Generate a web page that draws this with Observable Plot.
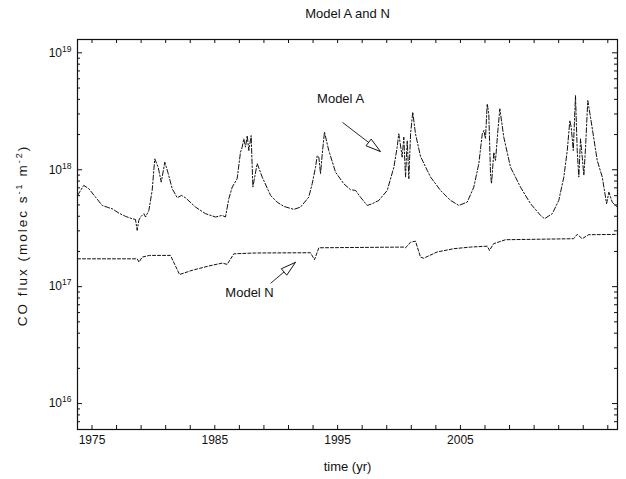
<!DOCTYPE html>
<html><head><meta charset="utf-8">
<script src="https://cdn.jsdelivr.net/npm/d3@7"></script>
<script src="https://cdn.jsdelivr.net/npm/@observablehq/plot@0.6"></script>
<style>
html,body{margin:0;padding:0;background:#fff;}
#chart svg{display:block;}
</style></head><body><div id="chart"></div>
<script>
// ---- data ----
const yearsA = [1973.82,1974.33,1974.74,1975.29,1975.83,1976.37,1976.64,1977.18,1977.73,1978.27,
1978.54,1978.68,1978.81,1978.95,1979.22,1979.36,1979.63,1979.90,1980.11,1980.39,
1980.64,1980.93,1981.21,1981.53,1981.94,1982.29,1982.61,1983.43,1984.24,1985.06,
1985.60,1985.87,1986.14,1986.42,1986.82,1987.09,1987.23,1987.36,1987.50,1987.64,
1987.77,1987.96,1988.10,1988.45,1988.86,1989.54,1990.08,1990.62,1991.43,1991.98,
1992.65,1992.93,1993.20,1993.34,1993.47,1993.61,1993.75,1993.93,1994.28,1994.83,
1995.50,1996.05,1996.46,1996.86,1997.41,1997.82,1998.36,1999.04,1999.58,1999.85,
1999.98,2000.26,2000.39,2000.53,2000.67,2000.80,2000.94,2001.12,2001.34,2001.75,
2002.30,2002.57,2003.38,2004.19,2004.87,2005.55,2006.09,2006.50,2006.78,2006.91,
2007.04,2007.18,2007.31,2007.45,2007.53,2007.72,2007.86,2008.05,2008.21,2008.53,
2009.08,2009.89,2010.71,2011.52,2011.85,2012.48,2013.01,2013.42,2013.70,2013.91,
2014.02,2014.19,2014.37,2014.51,2014.64,2014.78,2014.92,2015.05,2015.19,2015.37,
2015.59,2016.14,2016.55,2016.90,2017.09,2017.36,2017.63,2017.79];
const fluxA = [6.03e17,7.34e17,6.88e17,5.83e17,4.95e17,4.73e17,4.64e17,4.26e17,3.99e17,3.81e17,
3.76e17,3.03e17,3.69e17,3.94e17,4.21e17,3.94e17,4.49e17,6.65e17,1.24e18,1.05e18,
7.83e17,1.16e18,9.25e17,6.88e17,5.76e17,6.03e17,5.76e17,4.79e17,4.21e17,3.94e17,
4.07e17,3.94e17,5.65e17,7.10e17,8.38e17,1.41e18,1.56e18,1.84e18,1.56e18,1.96e18,
1.46e18,1.96e18,7.10e17,1.13e18,8.65e17,6.03e17,5.28e17,4.86e17,4.58e17,4.79e17,
5.83e17,7.59e17,1.05e18,1.32e18,1.28e18,9.25e17,1.37e18,2.10e18,1.46e18,9.54e17,
7.59e17,6.75e17,6.65e17,5.83e17,4.95e17,5.12e17,5.47e17,6.65e17,1.05e18,1.56e18,
2.03e18,1.28e18,1.90e18,8.65e17,1.78e18,8.38e17,2.03e18,3.11e18,2.03e18,1.30e18,
9.86e17,8.65e17,6.65e17,5.47e17,4.95e17,5.28e17,7.10e17,1.13e18,2.03e18,2.17e18,
1.84e18,3.66e18,3.01e18,9.25e17,7.59e17,1.41e18,1.20e18,2.17e18,3.32e18,1.90e18,
1.05e18,7.10e17,5.12e17,4.07e17,3.81e17,4.21e17,5.47e17,8.65e17,1.46e18,2.64e18,
2.31e18,1.46e18,4.31e18,1.46e18,8.65e17,1.84e18,1.28e18,8.94e17,1.56e18,3.91e18,
2.82e18,1.20e18,8.65e17,5.12e17,6.43e17,5.28e17,4.95e17,4.79e17];

const yearsN = [1973.82,1978.68,1978.83,1979.09,1979.68,1981.39,1982.13,1983.16,1984.49,1985.60,
1986.01,1986.55,1988.31,1992.79,1993.12,1993.47,2000.39,2000.53,2000.94,2001.34,
2001.75,2002.00,2003.11,2004.44,2005.82,2007.18,2007.37,2007.70,2008.67,2014.21,
2014.51,2014.92,2015.43,2017.79];
const fluxN = [1.73e17,1.73e17,1.62e17,1.79e17,1.85e17,1.85e17,1.27e17,1.38e17,1.50e17,1.59e17,
1.55e17,1.91e17,1.94e17,1.95e17,1.70e17,2.15e17,2.18e17,2.15e17,2.40e17,2.45e17,
1.79e17,1.75e17,1.98e17,2.11e17,2.18e17,2.22e17,2.04e17,2.33e17,2.52e17,2.57e17,
2.80e17,2.57e17,2.78e17,2.80e17];

const xTickLabels = [1975, 1985, 1995, 2005];
const xMinorTicks = d3.range(1975, 2018, 2);
const yMajorTicks = [1e16, 1e17, 1e18, 1e19];
const xDomain = [1973.82, 2017.79];
const yDomain = [6.0e15, 1.3e19];

const titleText = "Model A and N";
const xLabelText = "time (yr)";
const yLabelParts = [["CO flux (molec s", false], ["-1", true], [" m", false], ["-2", true], [")", false]];
const yLabelText = yLabelParts.map(p => p[0]).join("");

const annoNames = ["Model A", "Model N"];
const annoTextX = [1995.24, 1987.83];
const annoTextY = [4.06e18, 8.94e16];
const annoFromX = [1995.40, 1989.54];
const annoFromY = [2.54e18, 1.067e17];
const annoToX = [1998.49, 1991.57];
const annoToY = [1.43e18, 1.615e17];

// ---- layout ----
const W = 626, H = 479;
const mL = 77, mR = 9, mT = 39, mB = 50;
const fw = W - mL - mR, fh = H - mT - mB;
const FONT = "'Liberation Sans', Arial, Helvetica, sans-serif";
const INK = "#111";

const yMinorTicks = [];
for (let e = 15; e <= 19; e++) for (let k = 2; k <= 9; k++) {
  const v = k * Math.pow(10, e);
  if (v >= yDomain[0] && v <= yDomain[1]) yMinorTicks.push(v);
}

const dataA = yearsA.map((t, i) => ({t, v: fluxA[i]}));
const dataN = yearsN.map((t, i) => ({t, v: fluxN[i]}));

// pixel helpers only for arrowhead orientation
const px = t => mL + (t - xDomain[0]) / (xDomain[1] - xDomain[0]) * fw;
const py = v => mT + (Math.log10(yDomain[1]) - Math.log10(v)) / (Math.log10(yDomain[1]) - Math.log10(yDomain[0])) * fh;

const annos = annoNames.map((name, i) => {
  const dx = px(annoToX[i]) - px(annoFromX[i]);
  const dy = py(annoToY[i]) - py(annoFromY[i]);
  return {name, tx: annoTextX[i], ty: annoTextY[i], x1: annoFromX[i], y1: annoFromY[i],
          x2: annoToX[i], y2: annoToY[i], angle: Math.atan2(dx, -dy) * 180 / Math.PI};
});

const arrowHead = {
  draw(context) {
    context.moveTo(0, 0);
    context.lineTo(-4.2, 15);
    context.lineTo(4.2, 15);
    context.closePath();
  }
};

const plot = Plot.plot({
  width: W, height: H,
  marginLeft: mL, marginRight: mR, marginTop: mT, marginBottom: mB,
  style: {fontFamily: FONT, fontSize: "12px", background: "#fff", color: INK},
  x: {domain: xDomain},
  y: {type: "log", domain: yDomain},
  marks: [
    Plot.line(dataA, {x: "t", y: "v", stroke: INK, strokeWidth: 1, strokeDasharray: "5,2,1.5,2"}),
    Plot.line(dataN, {x: "t", y: "v", stroke: INK, strokeWidth: 1, strokeDasharray: "3,2"}),
    // inward ticks
    Plot.ruleX(xMinorTicks, {x: d => d, insetTop: fh - 4, stroke: INK}),
    Plot.ruleX(xMinorTicks, {x: d => d, insetBottom: fh - 4, stroke: INK}),
    Plot.ruleY(yMajorTicks, {y: d => d, insetRight: fw - 5, stroke: INK}),
    Plot.ruleY(yMajorTicks, {y: d => d, insetLeft: fw - 5, stroke: INK}),
    Plot.ruleY(yMinorTicks, {y: d => d, insetRight: fw - 3, stroke: INK}),
    Plot.ruleY(yMinorTicks, {y: d => d, insetLeft: fw - 3, stroke: INK}),
    Plot.axisX({ticks: xTickLabels, tickSize: 0, tickPadding: 6, tickFormat: d => String(d), label: null, fontSize: 12}),
    Plot.axisY({ticks: yMajorTicks, tickSize: 0, tickPadding: 6, tickFormat: d => String(Math.round(Math.log10(d))), label: null, fontSize: 12}),
    Plot.frame({stroke: INK, strokeWidth: 1.2}),
    // annotations
    Plot.link(annos, {x1: "x1", y1: "y1", x2: "x2", y2: "y2", stroke: INK, strokeWidth: 0.9}),
    Plot.dot(annos, {x: "x2", y: "y2", symbol: arrowHead, rotate: "angle", r: 5, fill: "#fff", stroke: INK, strokeWidth: 0.9}),
    Plot.text(annos, {x: "tx", y: "ty", text: "name", fontSize: 13, fill: INK}),
    // titles
    Plot.text([titleText], {frameAnchor: "top", dy: -26, lineAnchor: "middle", textAnchor: "middle", fontSize: 13, fill: INK}),
    Plot.text([xLabelText], {frameAnchor: "bottom", dy: 37, lineAnchor: "middle", textAnchor: "middle", fontSize: 13, fill: INK}),
    Plot.text([yLabelText], {frameAnchor: "left", dx: -55, dy: 1, rotate: -90, lineAnchor: "middle", textAnchor: "middle", fontSize: 13.5, fill: INK})
  ]
});

// superscripts for y tick labels: 10^n
d3.select(plot).selectAll('g[aria-label="y-axis tick label"] text').each(function() {
  const e = this.textContent;
  const t = d3.select(this);
  t.text("10");
  t.append("tspan").attr("baseline-shift", "super").attr("font-size", "8.5px").text(e);
});
// superscripts for y label
d3.select(plot).selectAll("text").filter(function() { return this.textContent === yLabelText; }).each(function() {
  const t = d3.select(this);
  t.text(null);
  t.attr("letter-spacing", "2px").attr("text-anchor", "middle");
  yLabelParts.forEach(([s, sup]) => {
    const sp = t.append("tspan").text(s);
    if (sup) sp.attr("baseline-shift", "super").attr("font-size", "9px");
  });
});

document.getElementById("chart").appendChild(plot);
</script>
</body></html>
